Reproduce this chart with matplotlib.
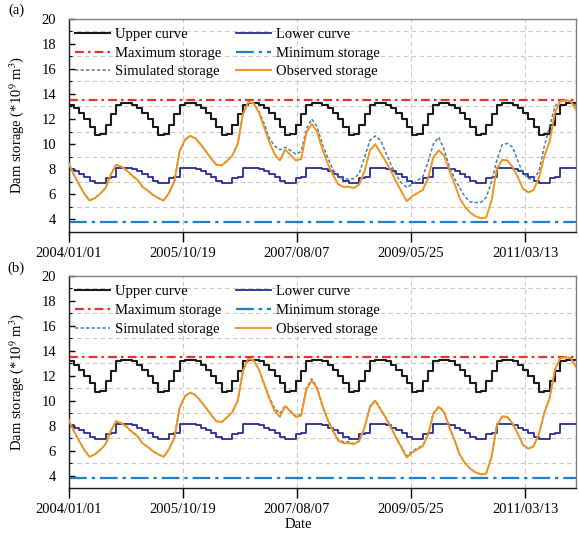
import numpy as np
import pandas as pd
import matplotlib
matplotlib.use('Agg')
import matplotlib.pyplot as plt
from matplotlib.ticker import MultipleLocator

plt.rcParams['font.family'] = ['Liberation Serif', 'DejaVu Serif']
plt.rcParams['mathtext.fontset'] = 'stix'

# ---------------- data ----------------
month_starts = pd.date_range('2004-01-01', periods=97, freq='MS')

# annual rule curves (Jan..Dec), 10^9 m^3
upper_annual = [13.15, 12.85, 12.45, 12.0, 11.4, 10.72, 10.8, 11.55, 12.4, 13.15, 13.3, 13.3]
lower_annual = [8.02, 7.85, 7.62, 7.38, 7.1, 6.92, 6.92, 7.3, 7.4, 8.1, 8.12, 8.1]
n_years = 8

max_storage = 13.5
min_storage = 3.82

observed = [8.5, 7.55, 6.8, 6.05, 5.5, 5.7, 6.05, 6.5, 7.6, 8.35, 8.2, 7.9,
            7.5, 7.15, 6.6, 6.3, 5.95, 5.7, 5.5, 6.1, 7.0, 9.4, 10.35, 10.65,
            10.45, 9.95, 9.45, 8.85, 8.35, 8.3, 8.65, 9.1, 10.0, 12.4, 13.35, 13.25,
            12.5, 11.3, 10.2, 9.2, 8.7, 9.55, 9.15, 8.7, 8.8, 10.9, 11.6, 11.0,
            9.6, 8.45, 7.6, 6.8, 6.6, 6.6, 6.5, 6.8, 7.9, 9.5, 10.0, 9.3,
            8.6, 7.8, 7.0, 6.2, 5.45, 5.85, 6.1, 6.35, 7.3, 8.95, 9.5, 9.1,
            7.9, 6.8, 5.7, 5.0, 4.55, 4.25, 4.1, 4.15, 5.5, 8.0, 8.75, 8.7,
            8.15, 7.3, 6.45, 6.15, 6.35, 7.35, 9.0, 10.2, 12.5, 13.4, 13.5, 13.4, 12.7]

simulated_a = [8.5, 7.55, 6.8, 6.05, 5.5, 5.7, 6.05, 6.5, 7.6, 8.35, 8.2, 7.9,
               7.5, 7.15, 6.6, 6.3, 5.95, 5.7, 5.5, 6.1, 7.0, 9.4, 10.35, 10.65,
               10.45, 9.95, 9.45, 8.85, 8.35, 8.3, 8.65, 9.1, 10.0, 12.4, 13.35, 13.25,
               12.6, 11.6, 10.5, 9.85, 9.55, 9.75, 9.5, 9.2, 9.4, 11.2, 12.0, 11.4,
               10.0, 8.9, 8.0, 7.4, 7.25, 7.2, 7.25, 7.7, 9.0, 10.3, 10.65, 10.3,
               9.3, 8.3, 7.5, 6.9, 6.55, 6.8, 7.1, 7.4, 8.6, 10.0, 10.55, 9.6,
               8.2, 7.2, 6.55, 5.8, 5.4, 5.35, 5.35, 5.75, 7.0, 8.7, 9.95, 10.05,
               9.75, 8.6, 7.7, 7.25, 7.2, 7.85, 9.8, 11.4, 13.0, 13.5, 13.45, 13.35, 13.05]

simulated_b = [8.5, 7.55, 6.8, 6.05, 5.5, 5.7, 6.05, 6.5, 7.6, 8.35, 8.2, 7.9,
               7.5, 7.15, 6.6, 6.3, 5.95, 5.7, 5.5, 6.1, 7.0, 9.4, 10.35, 10.65,
               10.45, 9.95, 9.45, 8.85, 8.35, 8.3, 8.65, 9.1, 10.0, 12.4, 13.35, 13.25,
               12.5, 11.3, 10.3, 9.4, 8.95, 9.6, 9.2, 8.75, 8.9, 11.0, 11.75, 11.1,
               9.7, 8.5, 7.65, 6.9, 6.7, 6.7, 6.55, 6.75, 7.9, 9.55, 10.05, 9.35,
               8.65, 7.85, 7.05, 6.3, 5.55, 5.95, 6.2, 6.4, 7.3, 9.0, 9.55, 9.1,
               7.9, 6.8, 5.7, 5.0, 4.55, 4.25, 4.1, 4.15, 5.5, 8.0, 8.75, 8.7,
               8.15, 7.3, 6.45, 6.15, 6.35, 7.35, 9.0, 10.2, 12.5, 13.4, 13.5, 13.4, 12.7]

tick_labels = ['2004/01/01', '2005/10/19', '2007/08/07', '2009/05/25', '2011/03/13']
x_start, x_end = '2004-01-01', '2011-12-31'

# ---------------- styling ----------------
c_upper = '#1a1a1a'
c_lower = '#2b2b8f'
c_max = '#e8302e'
c_min = '#1f7fc6'
c_sim = '#4a7ea6'
c_obs = '#f0941f'

upper_curve = np.tile(upper_annual, n_years)
lower_curve = np.tile(lower_annual, n_years)
upper_plot = np.append(upper_curve, upper_curve[-1])
lower_plot = np.append(lower_curve, lower_curve[-1])
tick_pos = pd.to_datetime(tick_labels, format='%Y/%m/%d')

fig = plt.figure(figsize=(5.79, 5.33), dpi=100)
W, H = 579, 533
boxes = [(68.5, 18.5, 576, 232), (68.5, 276, 576, 488)]
sims = [simulated_a, simulated_b]
labels = ['(a)', '(b)']
label_y = [10, 268]

for i, (x0, y0, x1, y1) in enumerate(boxes):
    ax = fig.add_axes([x0 / W, 1 - y1 / H, (x1 - x0) / W, (y1 - y0) / H])
    lu, = ax.step(month_starts, upper_plot, where='post', color=c_upper, lw=1.5)
    ll, = ax.step(month_starts, lower_plot, where='post', color=c_lower, lw=1.3)
    lmax = ax.axhline(max_storage, color=c_max, lw=1.6, ls=(0, (4, 1.8, 1.2, 1.8)))
    lmin = ax.axhline(min_storage, color=c_min, lw=1.6, ls=(0, (8, 2.2, 1.5, 2.2)))
    ls_, = ax.plot(month_starts, sims[i], color=c_sim, lw=1.1, ls=(0, (2.2, 1.4)), zorder=3)
    lo, = ax.plot(month_starts, observed, color=c_obs, lw=1.4, zorder=4)

    ax.set_xlim(pd.Timestamp(x_start), pd.Timestamp(x_end))
    ax.set_ylim(3, 20)
    ax.set_xticks(tick_pos)
    ax.set_xticklabels(tick_labels)
    ax.yaxis.set_major_locator(MultipleLocator(2))
    ax.yaxis.set_minor_locator(MultipleLocator(1))
    ax.set_yticks(np.arange(4, 21, 2))
    ax.tick_params(axis='x', direction='out', length=7, width=1, labelsize=10.5, pad=4)
    ax.tick_params(axis='y', which='major', direction='in', length=4.5, width=1,
                   labelsize=10.5, pad=9)
    ax.tick_params(axis='y', which='minor', direction='in', length=2.5, width=0.8)
    ax.tick_params(axis='x', which='minor', bottom=False)
    ax.grid(False)
    ax.grid(axis='x', which='major', ls=(0, (4, 3)), color='#c9c9c9', lw=0.8)
    ax.grid(axis='y', which='minor', ls=(0, (4, 3)), color='#c9c9c9', lw=0.8)
    ax.set_axisbelow(True)
    for s in ['top', 'right']:
        ax.spines[s].set_color('#808080')
        ax.spines[s].set_linewidth(1.0)
    for s in ['left', 'bottom']:
        ax.spines[s].set_color('#1a1a1a')
        ax.spines[s].set_linewidth(1.0)
    ax.set_ylabel(r'Dam storage (*10$^{9}$ m$^{3}$)', fontsize=10.5)
    ax.yaxis.set_label_coords(-0.083, 0.5)

    handles = [lu, lmax, ls_, ll, lmin, lo]
    names = ['Upper curve', 'Maximum storage', 'Simulated storage',
             'Lower curve', 'Minimum storage', 'Observed storage']
    ax.legend(handles, names, ncol=2, loc='upper left', bbox_to_anchor=(0.012, 0.957),
              frameon=False, fontsize=10.5, borderpad=0, borderaxespad=0,
              handlelength=2.4, handletextpad=0.35, columnspacing=1.0,
              labelspacing=0.38)
    fig.text(16 / W, 1 - label_y[i] / H, labels[i], fontsize=10.5, ha='center', va='center')
    if i == 1:
        ax.set_xlabel('Date', fontsize=10.5, labelpad=0)
        ax.xaxis.set_label_coords((298 - x0) / (x1 - x0), -(518 - y1) / (y1 - y0))

fig.savefig('out.png', dpi=100)
